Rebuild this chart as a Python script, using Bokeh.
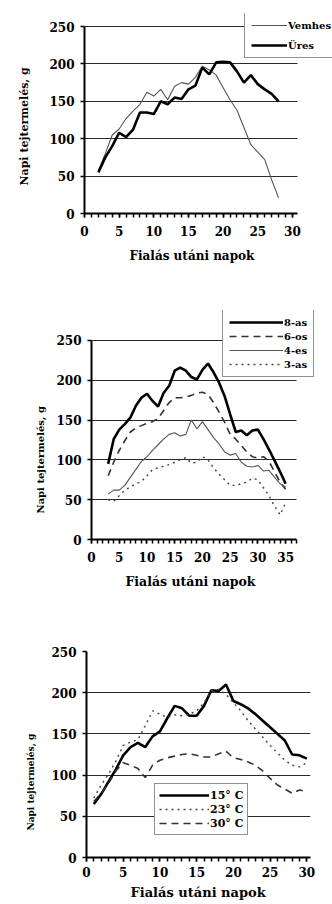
from bokeh.plotting import figure
from bokeh.models import (SingleIntervalTicker, Legend, LegendItem, Range1d, Title)
from bokeh.embed import file_html
from bokeh.resources import INLINE

FONT = "DejaVu Serif"

# ---------------- data ----------------
x_title = "Fialás utáni napok"
y_title = "Napi tejtermelés, g"

# chart 1
days1 = list(range(2, 29))
vemhes = [57, 80, 105, 113, 127, 137, 146, 162, 157, 166, 152, 170, 175, 173, 182,
          197, 192, 185, 168, 152, 138, 115, 92, 82, 72, 45, 21]
ures = [55, 75, 90, 108, 102, 112, 135, 135, 133, 150, 146, 155, 153, 166, 171,
        195, 186, 202, 203, 202, 190, 175, 185, 173, 166, 160, 150]
labels1 = ["Vemhes", "Üres"]

# chart 2
days2 = list(range(3, 36))
s8 = [95, 126, 138, 145, 153, 168, 178, 183, 174, 167, 184, 193, 212, 216, 212,
      204, 201, 213, 221, 210, 197, 180, 157, 135, 137, 131, 137, 138, 126, 113,
      99, 85, 70]
s6 = [80, 97, 112, 124, 135, 140, 143, 146, 148, 152, 162, 172, 178, 178, 179,
      181, 184, 185, 182, 172, 160, 147, 132, 126, 118, 110, 104, 102, 104, 98,
      85, 72, 63]
s4 = [57, 62, 62, 68, 78, 88, 98, 104, 112, 119, 126, 132, 134, 130, 132,
      150, 139, 148, 138, 128, 120, 110, 106, 108, 97, 92, 91, 93, 86, 87,
      78, 70, 66]
s3 = [50, 48, 55, 62, 66, 70, 73, 80, 88, 90, 92, 94, 97, 100, 103,
      96, 97, 104, 100, 90, 82, 75, 68, 68, 70, 72, 77, 75, 65, 55,
      42, 31, 46]
labels2 = ["8-as", "6-os", "4-es", "3-as"]

# chart 3
days3 = list(range(1, 31))
t15 = [65, 77, 92, 107, 124, 134, 139, 134, 147, 153, 169, 184, 181, 172, 172,
       184, 203, 202, 210, 190, 186, 181, 174, 166, 158, 150, 142, 125, 124, 120]
t23 = [72, 88, 101, 117, 136, 140, 143, 160, 178, 174, 170, 173, 172, 174, 178,
       188, 202, 204, 198, 188, 178, 166, 156, 146, 136, 127, 118, 112, 110, 115]
t30 = [68, 78, 90, 105, 115, 112, 108, 97, 112, 118, 121, 123, 125, 126, 124,
       122, 122, 126, 129, 121, 119, 116, 112, 105, 96, 88, 83, 78, 82, 80]
labels3 = ["15° C", "23° C", "30° C"]

y_ticks_step = 50
y_max = 250


def base_fig(frame_w, frame_h, left, right, top, bottom,
             x_view, x_axis_end, y_view, xtick_standoff,
             xt_offset, xt_standoff, xt_size,
             yt_offset, yt_standoff, yt_size):
    p = figure(frame_width=frame_w, frame_height=frame_h,
               min_border_left=left, min_border_right=right,
               min_border_top=top, min_border_bottom=bottom,
               x_range=Range1d(0, x_view), y_range=Range1d(0, y_view),
               output_backend="svg", toolbar_location=None,
               background_fill_color="white", border_fill_color="white")
    p.outline_line_color = None
    p.xgrid.visible = False
    p.ygrid.grid_line_color = "#2a2a2a"
    p.ygrid.grid_line_width = 1
    p.ygrid.cross_bounds = (0, x_axis_end)
    p.xaxis.bounds = (0, x_axis_end)
    p.yaxis.bounds = (0, y_max)
    p.xaxis.ticker = SingleIntervalTicker(interval=5, num_minor_ticks=5)
    p.yaxis.ticker = SingleIntervalTicker(interval=y_ticks_step, num_minor_ticks=0)
    for ax in (p.xaxis, p.yaxis):
        ax.axis_line_width = 2
        ax.axis_line_color = "black"
        ax.major_tick_line_color = "black"
        ax.major_tick_line_width = 1.5
        ax.minor_tick_line_color = "black"
        ax.minor_tick_line_width = 1.5
        ax.major_tick_in = 0
        ax.major_tick_out = 4
        ax.minor_tick_in = 0
        ax.minor_tick_out = 4
        ax.major_label_text_font = FONT
        ax.major_label_text_font_style = "bold"
        ax.major_label_text_font_size = "12px"
        ax.major_label_text_color = "black"
    p.xaxis.major_label_standoff = xtick_standoff
    p.yaxis.major_label_standoff = 6
    tx = Title(text=x_title, align="left", offset=xt_offset, standoff=xt_standoff,
               text_font=FONT, text_font_style="bold", text_font_size=xt_size,
               text_color="black")
    p.add_layout(tx, "below")
    ty = Title(text=y_title, align="left", offset=yt_offset, standoff=yt_standoff,
               text_font=FONT, text_font_style="bold", text_font_size=yt_size,
               text_color="black")
    p.add_layout(ty, "left")
    return p


def make_legend(p, items, loc, glyph_w, font_size, row_h, spacing, padding):
    leg = Legend(items=items, location=loc, orientation="vertical",
                 glyph_width=glyph_w, glyph_height=row_h, label_height=row_h,
                 label_width=10, label_standoff=1, spacing=spacing,
                 padding=padding, margin=0,
                 border_line_color="#222", border_line_width=1,
                 background_fill_color="white", background_fill_alpha=1,
                 label_text_font=FONT, label_text_font_style="bold",
                 label_text_font_size=font_size, label_text_color="black")
    p.add_layout(leg)
    return leg


# ---------------- chart 1 ----------------
# frame 79..332 x 13..213 ; axis spans 0..30.8 days, 0..250 g
p1 = base_fig(253, 200, 79, 0, 13, 60, 36.5, 30.8, 267.4, 8,
              45, 16, "12px", 28, 31, "11px")
r_v = p1.line(days1, vemhes, line_color="#555", line_width=1.1)
r_u = p1.line(days1, ures, line_color="black", line_width=2.6)
make_legend(p1, [LegendItem(label=labels1[0], renderers=[r_v]),
                 LegendItem(label=labels1[1], renderers=[r_u])],
            (160, 155), 36, "10px", 12, 8, 6)

# ---------------- chart 2 ----------------
# frame 91..319 x 310..539
p2 = base_fig(228, 229, 91, 13, 37, 61, 41.1, 37, 287.6, 8,
              34, 15, "12.5px", 26, 16, "10px")
r8 = p2.line(days2, s8, line_color="black", line_width=2.6)
r6 = p2.line(days2, s6, line_color="#333", line_width=1.6, line_dash="7 5")
r4 = p2.line(days2, s4, line_color="#555", line_width=1.1)
r3 = p2.line(days2, s3, line_color="#444", line_width=1.4, line_dash="2 4")
make_legend(p2, [LegendItem(label=labels2[0], renderers=[r8]),
                 LegendItem(label=labels2[1], renderers=[r6]),
                 LegendItem(label=labels2[2], renderers=[r4]),
                 LegendItem(label=labels2[3], renderers=[r3])],
            (131, 162), 54, "10px", 12, 2, 6)

# ---------------- chart 3 ----------------
p3 = base_fig(224, 206, 86, 22, 51, 47, 30.5, 30.5, 250, 5,
              44, 6, "13px", 27, 25, "9px")
r15 = p3.line(days3, t15, line_color="black", line_width=2.6)
r23 = p3.line(days3, t23, line_color="#444", line_width=1.4, line_dash="2 4")
r30 = p3.line(days3, t30, line_color="#333", line_width=1.6, line_dash="7 5")
make_legend(p3, [LegendItem(label=labels3[0], renderers=[r15]),
                 LegendItem(label=labels3[1], renderers=[r23]),
                 LegendItem(label=labels3[2], renderers=[r30])],
            (68, 22), 50, "11px", 14, 0, 4)

open("out.html", "w").write(file_html([p1, p2, p3], INLINE))
